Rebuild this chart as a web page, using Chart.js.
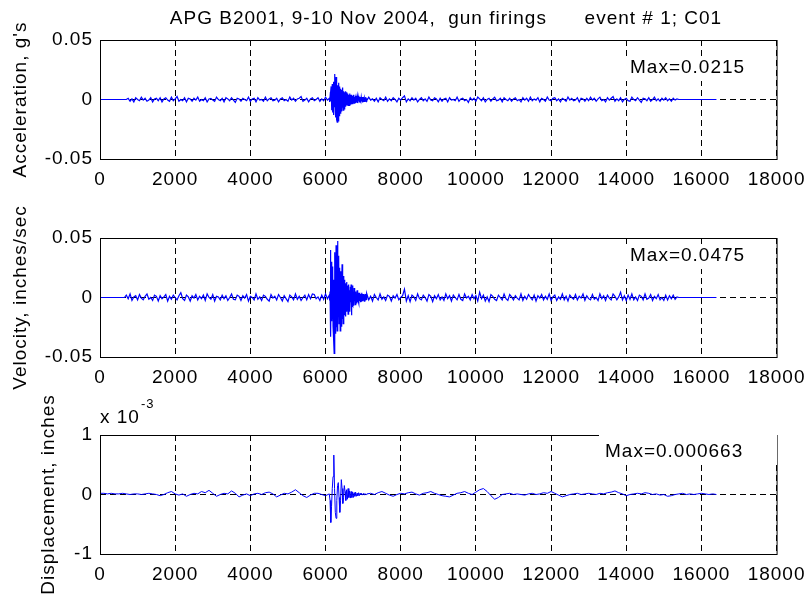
<!DOCTYPE html>
<html>
<head>
<meta charset="utf-8">
<script src="https://cdn.jsdelivr.net/npm/chart.js@4.4.1/dist/chart.umd.min.js"></script>
<style>
  html, body { margin: 0; padding: 0; background: #fff; }
  #fig { position: relative; width: 812px; height: 599px; background: #fff; overflow: hidden; }
  #fig canvas { position: absolute; left: 0; top: 0; }
</style>
</head>
<body>
<div id="fig">
  <canvas id="acc" width="812" height="599"></canvas>
  <canvas id="vel" width="812" height="599"></canvas>
  <canvas id="dis" width="812" height="599"></canvas>
</div>
<script>
// sample axis (x) ticks shared by all three panels
const xTickValues = [0, 2000, 4000, 6000, 8000, 10000, 12000, 14000, 16000, 18000];

// acceleration, milli-g  (axis -0.05 .. 0.05 g)
const accTicks = [-50, 0, 50];
const ACC_STEP = 50, ACC_BURST_STEP = 10;
const accPre = [ // samples 0..6050
  0,0,0,0,0,0,0,0,0,0,0,0,0,0,0,
  1,-1.5,0.5,-2,1.5,0,-1,2,-0.5,1,-1.5,-0.5,1.5,-2,0.5,1,-1,1.5,-2,0.5,
  1.5,-0.5,-1.5,2,-1,0.5,2.5,-1.5,0,-1,1.5,-2,1,0.5,-1.5,1,-0.5,2,-1.5,0,
  -1,1.5,-2,0.5,1,-0.5,-1.5,2,0,-1,1,-2,1.5,0.5,-1,1.5,-0.5,-2.5,1,0.5,
  -1.5,1,0,-1,2,-1.5,0.5,1,-2,1.5,-0.5,0,-1.5,2,-1,0.5,1.5,-1,-0.5,1,
  -2,0.5,1.5,-1,0,-1.5,2,-0.5,1,-1.5,0.5,1,2.5,-1.5,-0.5,1,-2,0.5,1.5,-1,
  0,1.5,-1.5,0.5,-1,2,-0.5
];
const accBurst = [ // samples 6100..7090
  1,-2,2,-1.5,6,     11,-9,4,13,-11,     7,-13,15,-6,18,     21.5,-10,-15,19,5,
  -17,-19,12,3,-18,  14,-8,-14,11,-4,    -12,9,2,-10,8,      -7,10,-9,4,7,
  -8,6,-3,7,-6,      3,-5,6,-4,5,        -5,2,4,-5,3,        5,-4,-2,4,-3,
  -4,3,1,-4,3,       4,-3,2,-3,1,        -3,3,-2,1,3,        2,-3,2,-1,3,
  -2,2,-1,2,-2,      2,-1.5,1,-2,2,      -1.5,2,-1,1.5,-2,   1.5,-1,2,-1.5,1
];
const accPost = [ // samples 7100..16400
  -1,2,-0.5,0.5,-1.5,1,-2,1.5,0,-1,2,-1.5,0.5,-1,1.5,0,-2,1,-0.5,1.5,
  3,-2,0.5,-1,1.5,-0.5,1,-2,0,1.5,-1,0.5,-1.5,2,-0.5,-1,1.5,0.5,-2,1,
  -1.5,0.5,1,-2,1.5,-0.5,0,-1,2,-1.5,0.5,1,-1,0,-2.5,1.5,-0.5,1,-1.5,2,
  0.5,-1,1.5,-2,0,1,-1.5,0.5,2,-1,-0.5,1,-2,1.5,0,-1,1,-1.5,0.5,1.5,
  -1,0,-2,1.5,-0.5,1,-1.5,2,-1,0.5,-0.5,1.5,-2,1,0,-1.5,2,-0.5,-1,1,
  1.5,-1,0.5,-2,1,0,-1.5,2,-0.5,1,-1,-0.5,1.5,-2,1,0.5,-1.5,1,-1,2,
  -0.5,1,-1.5,0.5,2,-1,0,-2,1.5,-0.5,1,2.5,-1.5,0.5,-1,1.5,-2,0,1,-1,
  -1.5,2,0,-1,1.5,-0.5,-2.5,1,0.5,-1,1.5,-1.5,0,2,-1,0.5,-1.5,1,-0.5,1.5,
  -1,0.5,-1.5,1,-0.5,0.5,0,
  0,0,0,0,0,0,0,0,0,0,0,0,0,0,0,0,0,0,0,0
];

// velocity, milli-inches/sec  (axis -0.05 .. 0.05 in/s)
const velTicks = [-50, 0, 50];
const VEL_STEP = 50, VEL_BURST_STEP = 10;
const velPre = [ // samples 0..6050
  0,0,0,0,0,0,0,0,0,0,0,0,0,0,
  2,-1,3,-2.5,0.5,1.5,-2,2.5,-0.5,-2,1,3,-1.5,0,-2.5,2,1,-3,1.5,-1,
  0.5,2.5,-3,1,-1.5,2,0,-2,1.5,4,-1,-2.5,2,0.5,-3,1.5,-0.5,2.5,-2,1,
  -1,2,-2.5,3,0,-1.5,2.5,-3,1,0.5,-2,2,-1,1.5,-2.5,0,3,-1.5,-2,2,
  1,-2.5,1.5,-0.5,2.5,-3,1,0,-2,3,-1.5,0.5,-2.5,2,1,-1.5,-3,2.5,-0.5,1,
  -2,2.5,0,-3,1.5,-1,-3.5,2,0.5,-2,3,-1.5,1,-2.5,0,2,-2,2.5,-1,3,
  2.5,-1,0.5,-2.5,2,-1.5,3,-1
];
const velBurst = [ // samples 6100..7090
  2,-2.5,5,40,-33,   12,30,-20,8,26,     -24,15,-35,-47,10,  38,-30,-8,44,-25,
  20,-28,47.5,-20,10, 35,-22,-5,25,-28,  12,22,-24,8,28,     -18,5,-22,18,-10,
  15,-15,4,-16,12,   -8,13,-12,5,10,     -14,3,11,-9,6,      -12,9,-4,11,-15,
  8,-6,10,-7,3,      -7,8,-3,6,-6,       5,-6,3,-5,6,        -4,5,-3,4,-5,
  4,-3,2,-4,3,       -3,4,-2,3,-3,       3,-2.5,2,-3,2.5,    -2,3,-2.5,2,-2
];
const velPost = [ // samples 7100..16400
  3.5,-2,1,-3,2.5,0,-2,3,-1.5,0.5,-2.5,2,1,-3,1.5,-0.5,2.5,-2,0,1.5,
  7,-3,1.5,-3.5,2,0.5,-2.5,3,-1,-2,2,0,-3,2.5,1,-3.5,1.5,-1,2.5,-2,
  0.5,-2.5,3,-1,1.5,-3,2,0,-2,2.5,-1.5,-2.5,3,-0.5,1,-2,2.5,-1,1.5,-3,
  4.5,-1,2,-3,0.5,-3.5,2.5,1,-1.5,-2.5,2,0,-2,3,-1,-2.5,2.5,0.5,-2,1.5,
  -0.5,-2,3,-2.5,1,-1.5,2.5,0,-2,2,-3,1.5,-0.5,2.5,-2,1,-1.5,3,-2.5,0.5,
  2,-2.5,0.5,-1.5,3,-2,1,-3,2,0,-1.5,2.5,-2,1,-0.5,3,-2.5,1.5,-1,-2,
  2.5,-1.5,0,-2.5,3,-1,1.5,-2.5,2,-0.5,-2,3,1,-2,0.5,4.5,-2,1.5,-2.5,2,
  -1.5,3,-2,0.5,-2.5,2,1,-2,3,-1.5,-0.5,2.5,-2.5,1,-1,2.5,-2,0,-2.5,2,
  -2,1.5,-1,2,-1.5,0.5,0,
  0,0,0,0,0,0,0,0,0,0,0,0,0,0,0,0,0,0,0,0
];

// displacement, x 10^-3 inches
const disTicks = [-1, 0, 1];
const DIS_STEP = 100, DIS_BURST_STEP = 20;
const disPre = [ // samples 0..6000
  0.02,0.02,0.01,0.02,0.01,0.01,0.02,0.01,0.00,0.01,
  0.01,0.00,0.01,0.02,0.01,0.00,-0.02,0.00,0.03,0.05,
  0.01,-0.01,0.01,-0.03,0.00,0.02,0.01,0.05,0.03,0.07,
  0.02,-0.03,0.00,0.02,0.01,0.06,0.02,-0.04,-0.01,0.01,
  -0.02,0.01,0.02,0.00,0.03,0.04,0.01,-0.04,-0.01,0.02,
  0.01,0.04,0.08,0.03,-0.02,-0.05,-0.01,0.02,0.02,0.00,
  -0.02
];
const disBurst = [ // samples 6100..7080
  0.01,-0.1,-0.47,-0.2,0.1,0.3,0.663,0.1,-0.3,-0.4,
  -0.1,0.15,0.2,-0.05,-0.3,-0.1,0.25,0.1,-0.15,-0.05,
  0.15,0.05,-0.1,0.08,-0.08,0.1,-0.05,0.06,-0.06,0.05,
  -0.05,0.04,-0.05,0.03,-0.03,0.04,-0.03,0.02,-0.02,0.03,
  -0.02,0.02,0.00,0.02,-0.01,0.01,0.02,-0.01,0.01,0.00
];
const disPost = [ // samples 7100..16400
  0.01,0.02,0.00,0.03,0.05,0.02,-0.01,-0.03,0.00,0.02,
  0.01,0.03,0.04,0.01,-0.01,0.02,0.03,0.05,0.02,0.00,
  -0.02,-0.03,-0.04,-0.01,0.02,0.03,0.05,0.02,0.00,0.04,
  0.08,0.10,0.05,-0.02,-0.08,-0.05,0.00,0.01,0.02,0.00,
  0.01,0.00,-0.01,0.01,0.02,0.00,0.01,0.03,0.02,0.05,
  0.02,-0.01,-0.04,-0.02,0.00,0.01,0.02,0.00,0.01,0.02,
  0.01,0.00,0.02,0.01,0.03,0.04,0.06,0.03,0.01,-0.02,
  0.00,0.01,0.02,0.01,0.03,0.02,0.00,0.01,-0.01,0.00,
  -0.03,-0.02,0.00,0.01,0.02,0.00,0.01,0.00,0.01,0.02,
  0.01,0.00,0.01,0.00
];

const FONT_FAMILY = '"Liberation Sans", Arial, Helvetica, sans-serif';
const BLUE = '#0000ff';

var toPoints = function (start, step, values) {
  return values.map((v, i) => ({ x: start + i * step, y: v }));
};

var series = function (pre, burst, post, step, burstStep) {
  return toPoints(0, step, pre)
    .concat(toPoints(6100, burstStep, burst))
    .concat(toPoints(7100, step, post));
};

// frame, labels and text boxes drawn on top of each panel
var figurePlugin = function (notes, yLabel) {
  return {
    id: 'figure',
    beforeDraw(chart) {
      chart.ctx.letterSpacing = '1px';
    },
    afterDraw(chart) {
      let ctx = chart.ctx;
      let a = chart.chartArea;
      ctx.save();
      ctx.letterSpacing = '1px';
      ctx.strokeStyle = '#000';
      ctx.lineWidth = 1;
      ctx.setLineDash([]);
      ctx.strokeRect(a.left + 0.5, a.top + 0.5, a.right - a.left, a.bottom - a.top);
      notes.forEach(n => {
        if (n.box) {
          ctx.fillStyle = '#fff';
          ctx.fillRect(n.box[0], n.box[1], n.box[2], n.box[3]);
        }
        ctx.fillStyle = '#000';
        ctx.font = (n.size || 19) + 'px ' + FONT_FAMILY;
        ctx.textAlign = n.align || 'left';
        ctx.textBaseline = 'middle';
        ctx.fillText(n.text, n.x, n.y);
      });
      // y axis label, rotated, centred on the plot
      ctx.translate(yLabel.x, (a.top + a.bottom) / 2);
      ctx.rotate(-Math.PI / 2);
      ctx.fillStyle = '#000';
      ctx.font = '19px ' + FONT_FAMILY;
      ctx.textAlign = 'center';
      ctx.textBaseline = 'middle';
      ctx.fillText(yLabel.text, 0, 0);
      ctx.restore();
    }
  };
};

var makePanel = function (id, data, lineWidth, yTicks, yMin, yMax, yFormat, yLabel, top, xHeight, bottom, notes) {
  let config = {
    type: 'line',
    data: {
      datasets: [{
        data: data,
        borderColor: BLUE,
        borderWidth: lineWidth,
        pointRadius: 0,
        tension: 0,
        fill: false
      }]
    },
    options: {
      responsive: false,
      animation: false,
      events: [],
      parsing: false,
      normalized: true,
      layout: { padding: { left: 0, right: 31, top: top, bottom: bottom } },
      plugins: { legend: { display: false }, tooltip: { enabled: false }, title: { display: false } },
      scales: {
        x: {
          type: 'linear',
          min: 0,
          max: 18000,
          afterBuildTicks: s => { s.ticks = xTickValues.map(v => ({ value: v })); },
          afterFit: s => { s.height = xHeight; },
          ticks: {
            autoSkip: false,
            maxRotation: 0,
            padding: 9,
            color: '#000',
            font: { family: FONT_FAMILY, size: 19 },
            callback: v => String(v)
          },
          grid: { color: '#000', lineWidth: 1, drawTicks: false },
          border: { display: false, dash: [6, 4] }
        },
        y: {
          type: 'linear',
          min: yMin,
          max: yMax,
          afterBuildTicks: s => { s.ticks = yTicks.map(v => ({ value: v })); },
          afterFit: s => { s.width = 100; },
          ticks: {
            padding: 7,
            color: '#000',
            font: { family: FONT_FAMILY, size: 19 },
            callback: yFormat
          },
          grid: { color: '#000', lineWidth: 1, drawTicks: false },
          border: { display: false, dash: [6, 4] }
        }
      }
    },
    plugins: [figurePlugin(notes, yLabel)]
  };
  let ctx = document.getElementById(id).getContext('2d');
  return new Chart(ctx, config);
};

var milliFormat = v => (v === 0 ? '0' : String(v / 1000));

makePanel('acc', series(accPre, accBurst, accPost, ACC_STEP, ACC_BURST_STEP), 1.2,
  accTicks, -50, 50, milliFormat, { text: "Acceleration, g's", x: 21 }, 40, 41, 399, [
    { text: 'APG B2001, 9-10 Nov 2004,  gun firings      event # 1; C01', x: 446, y: 19, align: 'center' },
    { text: 'Max=0.0215', x: 630, y: 68, box: [624, 56, 128, 25] }
  ]);

makePanel('vel', series(velPre, velBurst, velPost, VEL_STEP, VEL_BURST_STEP), 1.2,
  velTicks, -50, 50, milliFormat, { text: 'Velocity, inches/sec', x: 21 }, 238, 42, 200, [
    { text: 'Max=0.0475', x: 630, y: 256, box: [624, 244, 128, 25] }
  ]);

makePanel('dis', series(disPre, disBurst, disPost, DIS_STEP, DIS_BURST_STEP), 1,
  disTicks, -1, 1, v => String(v), { text: 'Displacement, inches', x: 49 }, 435, 45, 0, [
    { text: 'x 10', x: 100, y: 418 },
    { text: '-3', x: 141, y: 404, size: 13 },
    { text: 'Max=0.000663', x: 605, y: 452, box: [599, 434, 178, 31] }
  ]);
</script>
</body>
</html>
